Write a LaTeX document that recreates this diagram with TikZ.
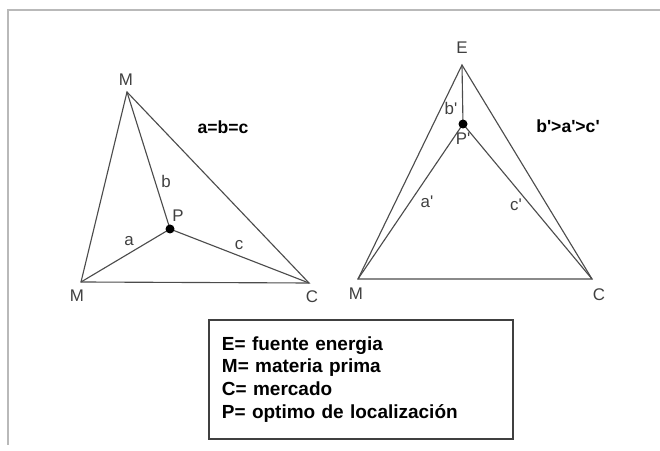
\documentclass[tikz,border=0pt]{standalone}
\usepackage{fontspec}
\setmainfont{Liberation Sans}
\usepackage{tikz}

\begin{document}
\begin{tikzpicture}[x=0.025cm,y=-0.025cm,
  lado/.style={draw=black!70,line width=0.8pt},
  letra/.style={text=black!75,font=\fontsize{12}{14}\selectfont,inner sep=0pt},
  nota/.style={font=\bfseries\fontsize{12.5}{14}\selectfont,inner sep=0pt},
  leyenda/.style={draw=black!75,line width=0.8pt,align=left,inner xsep=0.325cm,
    text width=6.95cm,minimum height=2.975cm,font=\bfseries\fontsize{13.5}{16.3}\selectfont}]
\useasboundingbox (0,0) rectangle (660,451);
\draw[gray!55,line width=1.6pt] (8,445) -- (8,10) -- (660,10);
% triangulo de la izquierda
\coordinate (m1) at (127,92);
\coordinate (m2) at (81,282);
\coordinate (c1) at (309,283);
\coordinate (p1) at (170,229);
\draw[lado] (m1) -- (m2) -- (c1) -- cycle;
\draw[lado] (m1) -- (p1) (m2) -- (p1) (c1) -- (p1);
\fill (p1) circle (4.5);
\node[letra] at (126,80) {M};
\node[letra] at (77,296) {M};
\node[letra] at (312,297) {C};
\node[letra] at (178,216) {P};
\node[letra] at (166,181) {b};
\node[letra] at (129,241) {a};
\node[letra] at (239,245) {c};
\node[nota] at (223,127) {a=b=c};
% triangulo de la derecha
\coordinate (e) at (462,65);
\coordinate (m) at (358,279);
\coordinate (c) at (592,279);
\coordinate (p) at (463,124);
\draw[lado] (e) -- (m) -- (c) -- cycle;
\draw[lado] (e) -- (p) (m) -- (p) (c) -- (p);
\fill (p) circle (4.5);
\node[letra] at (462,48) {E};
\node[letra] at (451,108) {b\textquotesingle};
\node[letra] at (463,139) {P\textquotesingle};
\node[letra] at (427,202) {a\textquotesingle};
\node[letra] at (516,205) {c\textquotesingle};
\node[letra] at (356,294) {M};
\node[letra] at (599,295) {C};
\node[nota] at (568,126) {b\textquotesingle>a\textquotesingle>c\textquotesingle};
% cuadro
\node[leyenda] (ley) at (361,379.5) {E= fuente energia\\M= materia prima\\C= mercado\\P= optimo de localización};
\end{tikzpicture}
\end{document}
